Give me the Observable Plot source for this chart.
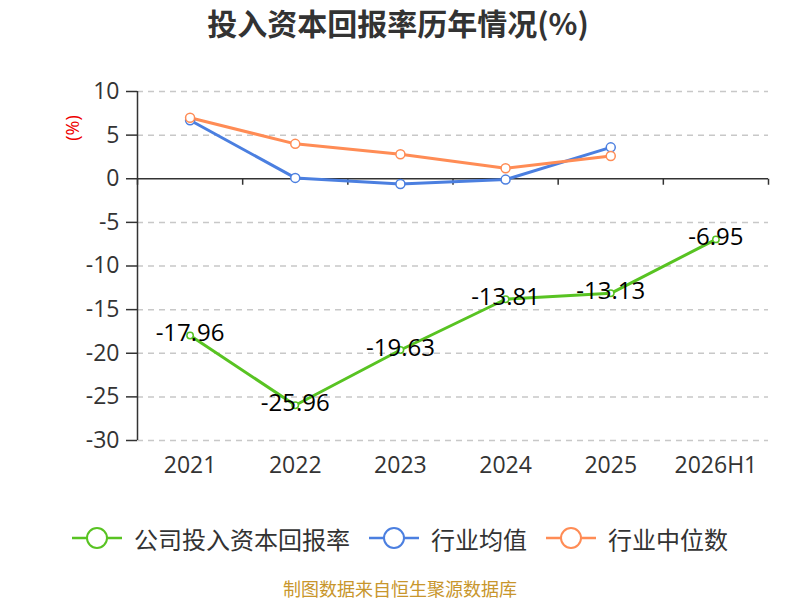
<!DOCTYPE html>
<html>
<head>
<meta charset="utf-8">
<script src="https://cdn.jsdelivr.net/npm/d3@7"></script>
<script src="https://cdn.jsdelivr.net/npm/@observablehq/plot@0.6"></script>
<style>
  html, body { margin: 0; padding: 0; background: #fff; }
  #wrap { position: relative; width: 800px; height: 600px; overflow: hidden; font-family: "Open Sans", "Noto Sans CJK SC", sans-serif; }
  #title { position: absolute; left: 0; top: 3px; width: 796px; text-align: center; font-family: "Noto Sans CJK SC", sans-serif; font-weight: bold; font-size: 30px; color: #333; line-height: 38px; }
  #chart { position: absolute; left: 0; top: 0; }
  #ylabel { position: absolute; left: 59px; top: 115px; width: 26px; height: 26px; line-height: 26px; text-align: center; color: #e00; font-size: 18px; transform: rotate(-90deg); }
  #legend { position: absolute; left: 0; top: 521px; width: 800px; display: flex; justify-content: center; gap: 19px; font-family: "Noto Sans CJK SC", sans-serif; font-size: 24px; color: #333; }
  .item { display: flex; align-items: center; gap: 12px; height: 34px; }
  #source { position: absolute; left: 0; top: 577px; width: 800px; text-align: center; font-family: "Noto Sans CJK SC", sans-serif; font-size: 18px; color: #c8962c; line-height: 22px; }
</style>
</head>
<body>
<div id="wrap">
  <div id="chart"></div>
  <div id="title">投入资本回报率历年情况(%)</div>
  <div id="ylabel">(%)</div>
  <div id="legend"></div>
  <div id="source">制图数据来自恒生聚源数据库</div>
</div>
<script>
const categories = ["2021", "2022", "2023", "2024", "2025", "2026H1"];
const company = [-17.96, -25.96, -19.63, -13.81, -13.13, -6.95];
const industryMean = [6.7, 0.1, -0.6, -0.1, 3.6];
const industryMedian = [7.0, 4.0, 2.8, 1.2, 2.6];
const yTicks = [10, 5, 0, -5, -10, -15, -20, -25, -30];
const gridTicks = [10, 5, -5, -10, -15, -20, -25, -30];

const seriesNames = ["公司投入资本回报率", "行业均值", "行业中位数"];
const colors = ["#58c322", "#4b7fe0", "#ff8c55"];

const toRows = (vals) => vals.map((v, i) => ({x: i + 0.5, y: v, cat: categories[i]}));
const companyRows = toRows(company);
const meanRows = toRows(industryMean);
const medianRows = toRows(industryMedian);
const centers = categories.map((c, i) => i + 0.5);
const boundaries = d3.range(categories.length + 1);

const tickDown = { draw(ctx) { ctx.moveTo(0, 0); ctx.lineTo(0, 6); } };

const plot = Plot.plot({
  width: 800,
  height: 480,
  marginLeft: 137,
  marginRight: 32,
  marginTop: 91,
  marginBottom: 40,
  style: { fontFamily: '"Open Sans", "Noto Sans CJK SC", sans-serif', fontSize: "20px", color: "#333", background: "transparent", overflow: "visible" },
  x: { type: "linear", domain: [0, categories.length] },
  y: { domain: [-30, 10] },
  marks: [
    Plot.ruleY(gridTicks, { stroke: "#c8c8c8", strokeWidth: 1.5, strokeDasharray: "6,5" }),
    Plot.axisY({ ticks: yTicks, tickFormat: (d) => String(d), tickSize: 11, tickPadding: 7, fontSize: 23, label: null, stroke: "#333", strokeWidth: 1.5, strokeOpacity: 1, fill: "#333" }),
    Plot.ruleX([0], { stroke: "#333", strokeWidth: 1.5 }),
    Plot.axisX({ ticks: centers, tickFormat: (d) => categories[Math.round(d - 0.5)], tickSize: 0, tickPadding: 16, fontSize: 23, label: null, fill: "#333" }),
    Plot.ruleY([0], { stroke: "#333", strokeWidth: 1.5 }),
    Plot.dot(boundaries, { x: (d) => d, y: () => 0, symbol: tickDown, stroke: "#333", strokeWidth: 1.5, fill: "none" }),
    Plot.line(meanRows, { x: "x", y: "y", stroke: colors[1], strokeWidth: 3 }),
    Plot.line(medianRows, { x: "x", y: "y", stroke: colors[2], strokeWidth: 3 }),
    Plot.line(companyRows, { x: "x", y: "y", stroke: colors[0], strokeWidth: 3 }),
    Plot.dot(meanRows, { x: "x", y: "y", r: 4.5, fill: "#fff", stroke: colors[1], strokeWidth: 1.5 }),
    Plot.dot(medianRows, { x: "x", y: "y", r: 4.5, fill: "#fff", stroke: colors[2], strokeWidth: 1.5 }),
    Plot.dot(companyRows, { x: "x", y: "y", r: 3.2, fill: "#fff", stroke: colors[0], strokeWidth: 1.5 }),
    Plot.text(companyRows, { x: "x", y: "y", text: (d) => d.y.toFixed(2), fill: "#000", fontSize: 24, dy: -2 })
  ]
});
document.getElementById("chart").appendChild(plot);

const legend = document.getElementById("legend");
seriesNames.forEach((name, i) => {
  const item = document.createElement("div");
  item.className = "item";
  item.innerHTML = `<svg width="50" height="24" viewBox="0 0 50 24"><line x1="0" y1="12" x2="50" y2="12" stroke="${colors[i]}" stroke-width="2.5"/><circle cx="25" cy="12" r="10" fill="#fff" stroke="${colors[i]}" stroke-width="2"/></svg><span>${name}</span>`;
  legend.appendChild(item);
});
</script>
</body>
</html>
